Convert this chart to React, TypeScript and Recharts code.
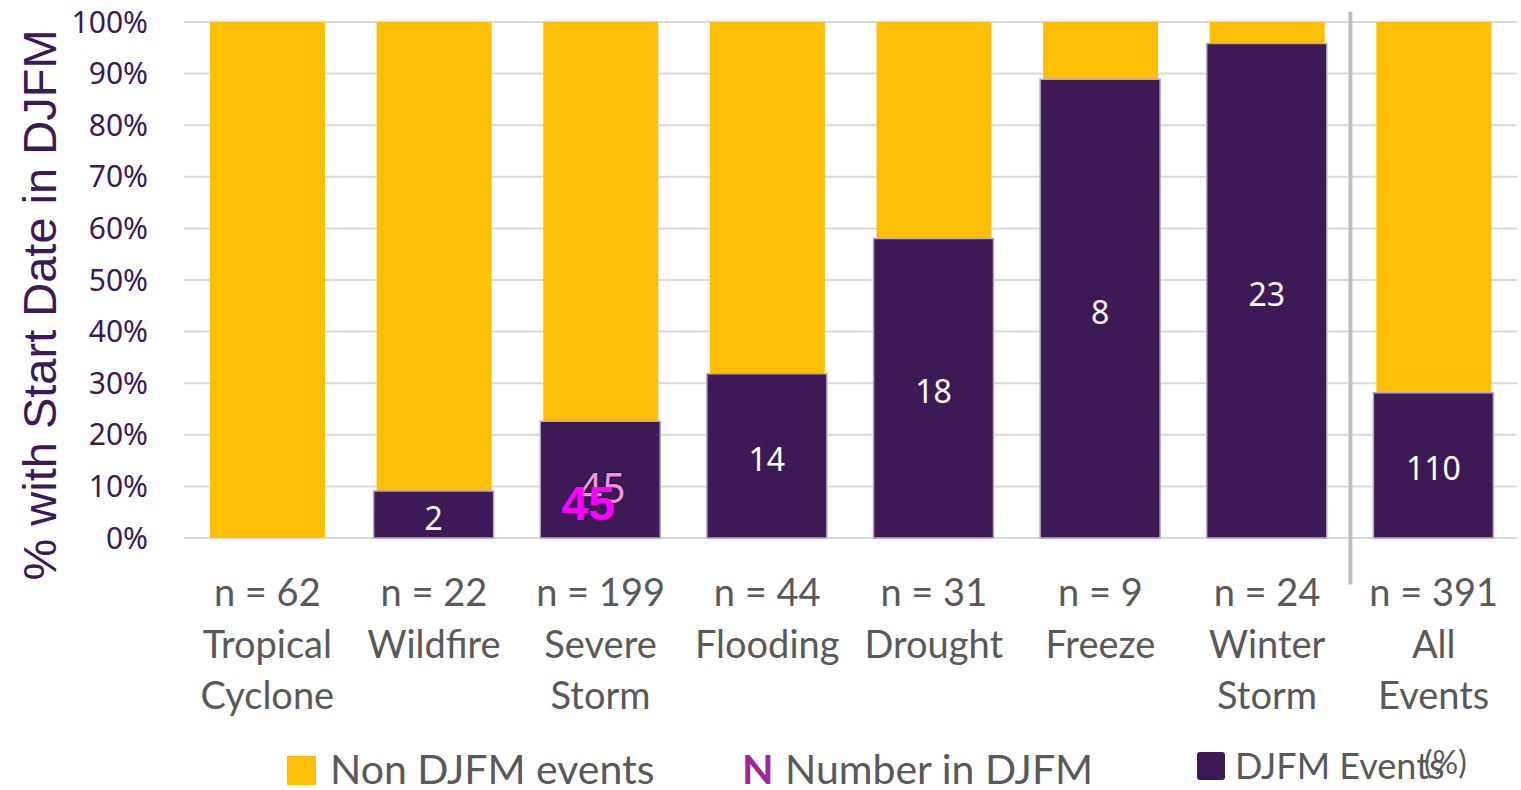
import React from 'react';
import { BarChart, Bar, XAxis, YAxis, CartesianGrid, LabelList, ReferenceLine } from 'recharts';

const categories = ['Tropical Cyclone', 'Wildfire', 'Severe Storm', 'Flooding', 'Drought', 'Freeze', 'Winter Storm', 'All Events'];
const totalEvents = [62, 22, 199, 44, 31, 9, 24, 391];
const djfmEvents = [0, 2, 45, 14, 18, 8, 23, 110];
const yTicks = [0, 10, 20, 30, 40, 50, 60, 70, 80, 90, 100];

const PURPLE = '#3d1955';
const GOLD = '#fdbf08';
const GREY = '#595959';

const data = categories.map((name, i) => ({
    name,
    n: totalEvents[i],
    count: djfmEvents[i],
    all: 100,
    djfm: (djfmEvents[i] / totalEvents[i]) * 100,
}));

// the severe storm count carries the extra "N" marker on top of its label
const markedCount = djfmEvents[categories.indexOf('Severe Storm')];
const totalCategory = categories[categories.length - 1];

function CategoryTick(props: any) {
    const { x, y, payload, index } = props;
    const lines = [`n = ${totalEvents[index]}`, ...String(payload.value).split(' ')];
    return <text x={x} y={y} textAnchor="middle" fill={GREY} fontFamily="Lato, 'Open Sans', sans-serif" fontSize={38}>
        {lines.map((l, i) => <tspan key={i} x={x} dy={i === 0 ? 60 : 51.5}>{l}</tspan>)}
    </text>;
}

function CountLabel(props: any) {
    const { x, y, width, height, value } = props;
    if (!value) return null;
    const cx = x + width / 2;
    const cy = y + height / 2;
    if (value === markedCount) {
        return <g>
            <text x={cx + 2} y={cy + 23} textAnchor="middle" fill="#f590e8" stroke="#14081a" strokeWidth={1.6}
                paintOrder="stroke" fontFamily="'Noto Sans', sans-serif" fontSize={41}>{value}</text>
            <text x={cx - 12} y={cy + 40} textAnchor="middle" fill="#ff00ff"
                fontFamily="'Liberation Sans', Arial, sans-serif" fontWeight="bold" fontSize={48}>{value}</text>
        </g>;
    }
    return <text x={cx} y={cy + 15} textAnchor="middle" fill="#ffffff" fontFamily="'Noto Sans', sans-serif" fontSize={32}>{value}</text>;
}

function LegendStrip() {
    return <svg width={1521} height={790} style={{ position: 'absolute', left: 0, top: 0, pointerEvents: 'none' }}>
        <rect x={287} y={756} width={29} height={29} fill={GOLD} />
        <text x={330} y={784} fill={GREY} fontFamily="Lato, sans-serif" fontSize={41}>Non DJFM events</text>
        <text x={742} y={784} fill="#a0269a" fontFamily="Lato, sans-serif" fontWeight="bold" fontSize={41}>N</text>
        <text x={785} y={784} fill={GREY} fontFamily="Lato, sans-serif" fontSize={41}>Number in DJFM</text>
        <rect x={1197} y={752} width={28} height={28} rx={3} fill={PURPLE} />
        <text x={1235} y={779} fill={GREY} fontFamily="Lato, sans-serif" fontSize={36}>DJFM Events</text>
        <text x={1424} y={774} fill={GREY} fontFamily="Lato, sans-serif" fontSize={32}>(%)</text>
    </svg>;
}

export default function App() {
    return <div style={{ position: 'absolute', left: 0, top: 0, width: 1521, height: 790, background: '#fff' }}>
        <BarChart width={1521} height={790} data={data} margin={{ top: 22, right: 4, left: 0, bottom: 222 }}>
            <CartesianGrid vertical={false} stroke="#d9d9d9" strokeWidth={2} />
            <XAxis xAxisId="main" dataKey="name" axisLine={false} tickLine={false} interval={0} tick={<CategoryTick />} />
            <XAxis xAxisId="over" dataKey="name" hide />
            <YAxis domain={[0, 100]} ticks={yTicks} width={184} axisLine={false} tickLine={false} tickSize={0} tickMargin={36}
                tickFormatter={(v: number) => `${v}%`}
                tick={{ fill: PURPLE, fontSize: 30, fontFamily: "'Noto Sans', sans-serif" }} />
            <Bar xAxisId="main" dataKey="all" fill={GOLD} barSize={115} isAnimationActive={false} />
            <Bar xAxisId="over" dataKey="djfm" fill={PURPLE} stroke="#b8a4c8" strokeWidth={1.5} barSize={120} isAnimationActive={false}>
                <LabelList dataKey="count" content={<CountLabel />} />
            </Bar>
            {/* divider between the single hazards and the all-events total */}
            <ReferenceLine xAxisId="main" position="start" segment={[{ x: totalCategory, y: -9 }, { x: totalCategory, y: 102 }]}
                stroke="#bfbfbf" strokeWidth={4} ifOverflow="visible" />
            <text x={56} y={305} transform="rotate(-90 56 305)" textAnchor="middle" fill={PURPLE}
                fontFamily="'Liberation Sans', Arial, sans-serif" fontSize={47}>% with Start Date in DJFM</text>
        </BarChart>
        <LegendStrip />
    </div>;
}
